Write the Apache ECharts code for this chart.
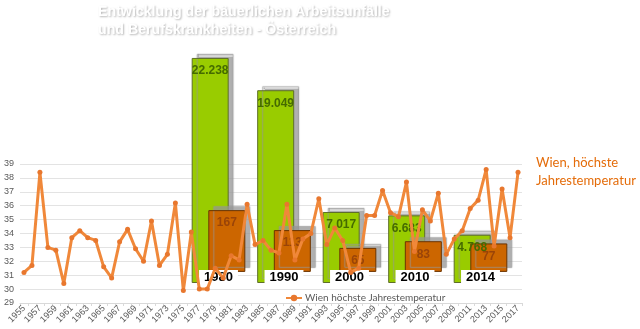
<!DOCTYPE html>
<html>
<head>
<meta charset="utf-8">
<script src="https://cdn.jsdelivr.net/npm/echarts@6/dist/echarts.min.js"></script>
<style>html,body{margin:0;padding:0;background:#fff}#c{width:640px;height:329px}</style>
</head>
<body>
<div id="c"></div>
<script>
const years = ['1955','1956','1957','1958','1959','1960','1961','1962','1963','1964',
'1965','1966','1967','1968','1969','1970','1971','1972','1973','1974',
'1975','1976','1977','1978','1979','1980','1981','1982','1983','1984',
'1985','1986','1987','1988','1989','1990','1991','1992','1993','1994',
'1995','1996','1997','1998','1999','2000','2001','2002','2003','2004',
'2005','2006','2007','2008','2009','2010','2011','2012','2013','2014',
'2015','2016','2017'];
const temps = [31.2,31.7,38.4,33.0,32.8,30.4,33.7,34.2,33.7,33.5,
31.6,30.8,33.4,34.3,32.9,32.0,34.9,31.7,32.5,36.2,
29.9,34.1,30.0,30.0,31.5,30.8,32.4,32.1,36.1,33.2,
33.5,32.8,32.6,36.1,32.1,33.6,34.0,36.5,33.2,34.4,
33.5,31.2,31.5,35.3,35.3,37.1,35.5,35.2,37.7,32.7,
35.7,34.9,36.9,32.5,33.6,34.2,35.8,36.4,38.6,33.1,
37.2,33.7,38.4];
const barYears = ['1980','1990','2000','2010','2014'];
const accidents = [22238, 19049, 7017, 6683, 4768];
const diseases = [167, 113, 65, 83, 77];
const yTicks = {min: 29, max: 39, interval: 1};
const seriesName = 'Wien höchste Jahrestemperatur';
const titleText = 'Entwicklung der bäuerlichen Arbeitsunfälle\nund Berufskrankheiten - Österreich';
const noteText = 'Wien, höchste\nJahrestemperatur';

function de(n){ return String(n).replace(/\B(?=(\d{3})+(?!\d))/g, '.'); }

const chart = echarts.init(document.getElementById('c'), null, {renderer:'canvas'});
chart.setOption({
  animation: false,
  backgroundColor: '#ffffff',
  title: [{
    text: titleText, left: 98, top: 3, padding: 0,
    textStyle: {color:'#ffffff', fontSize:14.2, fontWeight:'bold', fontFamily:'Liberation Sans', lineHeight:18,
      textShadowColor:'rgba(0,0,0,0.28)', textShadowBlur:2, textShadowOffsetX:1, textShadowOffsetY:1}
  },{
    text: noteText, left: 536, top: 154, padding: 0,
    textStyle: {color:'#E46C0A', fontSize:13, fontWeight:'normal', fontFamily:'Lato', lineHeight:18}
  }],
  legend: {
    data: [seriesName], left: 280, top: 288, itemWidth: 16, itemHeight: 8, itemGap: 4,
    textStyle: {fontSize: 10, color:'#595959', fontFamily:'Lato', padding:[0,0,0,-2]}
  },
  grid: [
    {left: 20, right: 118, top: 164, bottom: 26},
    {left: 185.75, right: 126.75, top: 30, bottom: 46}
  ],
  xAxis: [{
    type:'category', data: years, gridIndex: 0, boundaryGap: true,
    axisLine: {lineStyle:{color:'#d9d9d9'}},
    axisTick: {show:true, interval:0, length:3, lineStyle:{color:'#d9d9d9'}},
    axisLabel: {interval:1, rotate:45, fontSize:9, color:'#595959', fontFamily:'Liberation Sans', margin:4}
  },{
    type:'category', data: barYears, gridIndex: 1, z: 4,
    axisLine: {show:false}, axisTick: {show:false},
    axisLabel: {interval:0, margin:-13, fontSize:13, fontWeight:'bold', color:'#000', fontFamily:'Liberation Sans',
      backgroundColor:'#ffffff', padding:[1,5,1,5], lineHeight:13}
  }],
  yAxis: [{
    type:'value', gridIndex:0, min: yTicks.min, max: yTicks.max, interval: yTicks.interval,
    axisLine:{show:false}, axisTick:{show:false},
    axisLabel:{fontSize:9, color:'#595959', fontFamily:'Liberation Sans', margin:6},
    splitLine:{lineStyle:{color:'#e3e3e3'}}
  },{
    type:'value', gridIndex:1, min:0, max:25000, show:false, splitLine:{show:false}
  },{
    type:'value', gridIndex:1, min:-30, max:654, show:false, splitLine:{show:false}
  }],
  series: [{
    type:'bar', name:'Arbeitsunfälle', xAxisIndex:1, yAxisIndex:1, data: accidents, z:2,
    barWidth: 37, barGap: '-55%',
    itemStyle: {color:'#99CC00', borderColor:'#5e6e2a', borderWidth:1,
      shadowColor:'rgba(150,150,150,0.75)', shadowBlur:1, shadowOffsetX:5, shadowOffsetY:-4},
    label: {show:true, position:'insideTop', distance:7, fontSize:12, fontWeight:'bold', color:'#456b00',
      fontFamily:'Liberation Sans', formatter: p => de(p.value)}
  },{
    type:'bar', name:'Berufskrankheiten', xAxisIndex:1, yAxisIndex:2, data: diseases, z:2,
    barWidth: 37,
    itemStyle: {color:'#CC6600', borderColor:'#6b3300', borderWidth:1,
      shadowColor:'rgba(150,150,150,0.75)', shadowBlur:1, shadowOffsetX:5, shadowOffsetY:-4},
    label: {show:true, position:'insideTop', distance:7, fontSize:12, fontWeight:'bold', color:'#9a4408',
      fontFamily:'Liberation Sans'}
  },{
    type:'line', name: seriesName, xAxisIndex:0, yAxisIndex:0, data: temps, z:5,
    symbol:'circle', symbolSize:5, showAllSymbol:true,
    lineStyle:{color:'#F0883A', width:3},
    itemStyle:{color:'#E8772E'}
  }]
});
</script>
</body>
</html>
